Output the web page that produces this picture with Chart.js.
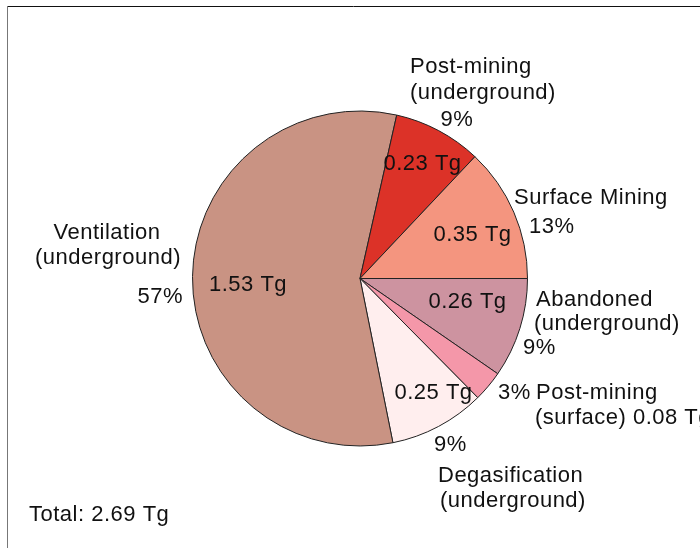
<!DOCTYPE html>
<html><head><meta charset="utf-8">
<script src="https://cdn.jsdelivr.net/npm/chart.js@4"></script>
<style>html,body{margin:0;padding:0;background:#fff}#wrap{width:700px;height:548px;position:relative}canvas{display:block}</style>
</head><body><div id="wrap"><canvas id="c" width="700" height="548"></canvas></div>
<script>
// Slices listed clockwise starting at 3 o'clock
const categories = ["Abandoned (underground)", "Post-mining (surface)", "Degasification (underground)", "Ventilation (underground)", "Post-mining (underground)", "Surface Mining"];
const valuesTg = [0.26, 0.08, 0.25, 1.53, 0.23, 0.35];
const percentLabels = ["9%", "3%", "9%", "57%", "9%", "13%"];
const totalLabel = "Total: 2.69 Tg";
const sliceColors = ["#CD93A0", "#F497A9", "#FFEEEE", "#C99383", "#DC3228", "#F4957F"];

// Annotation text lines per slice: [text, dx, dy, align] offsets from pie centre (px)
const outsideLabels = [
  [["Abandoned", 176, 27, "left"], ["(underground)", 174, 51, "left"], [percentLabels[0], 163, 75, "left"]],
  [[percentLabels[1], 138, 120, "left"], ["Post-mining", 176, 120, "left"], ["(surface) " + valuesTg[1].toFixed(2) + " Tg", 175, 145, "left"]],
  [[percentLabels[2], 74, 172, "left"], ["Degasification", 78, 203, "left"], ["(underground)", 80, 228, "left"]],
  [["Ventilation", -253, -40, "center"], ["(underground)", -252, -15, "center"], [percentLabels[3], -177, 24, "right"]],
  [["Post-mining", 50, -206, "left"], ["(underground)", 50, -180, "left"], [percentLabels[4], 97, -153, "center"]],
  [["Surface Mining", 154, -75, "left"], [percentLabels[5], 169, -46, "left"]]
];
// In-slice value label offsets from centre (px); post-mining surface value is outside
const valueOffsets = [[107.5, 29], null, [73.5, 120], [-112, 12], [62.5, -109], [112.5, -38]];

const FONT = '22px "Liberation Sans", Arial, Helvetica, sans-serif';

const labelPlugin = {
  id: 'labels',
  beforeDraw(chart) {
    const ctx = chart.ctx;
    ctx.save();
    ctx.lineWidth = 1;
    ctx.strokeStyle = '#111';
    ctx.beginPath(); ctx.moveTo(7, 6.5); ctx.lineTo(700, 6.5); ctx.stroke();
    ctx.strokeStyle = '#777';
    ctx.beginPath(); ctx.moveTo(7.5, 6); ctx.lineTo(7.5, 548); ctx.stroke();
    ctx.restore();
  },
  afterDraw(chart) {
    const ctx = chart.ctx;
    const meta = chart.getDatasetMeta(0);
    const arc0 = meta.data[0];
    const cx = arc0.x, cy = arc0.y;
    ctx.save();
    ctx.font = FONT;
    ctx.fillStyle = '#111';
    ctx.textBaseline = 'alphabetic';
    try { ctx.letterSpacing = '0.5px'; } catch (e) {}
    outsideLabels.forEach(lines => lines.forEach(([t, dx, dy, al]) => {
      ctx.textAlign = al;
      ctx.fillText(t, cx + dx, cy + dy);
    }));
    valueOffsets.forEach((o, i) => {
      if (!o) return;
      ctx.textAlign = 'center';
      ctx.fillText(valuesTg[i].toFixed(2) + ' Tg', cx + o[0], cy + o[1]);
    });
    ctx.textAlign = 'left';
    ctx.fillText(totalLabel, 29, 521);
    ctx.restore();
  }
};

new Chart(document.getElementById('c'), {
  type: 'pie',
  data: {
    labels: categories,
    datasets: [{
      data: valuesTg,
      backgroundColor: sliceColors,
      borderColor: '#222',
      borderWidth: 1,
      hoverOffset: 0
    }]
  },
  options: {
    responsive: false,
    animation: false,
    rotation: 90,
    layout: { padding: { left: 192, right: 172, top: 110, bottom: 101 } },
    plugins: { legend: { display: false }, tooltip: { enabled: false } }
  },
  plugins: [labelPlugin]
});
</script>
</body></html>
